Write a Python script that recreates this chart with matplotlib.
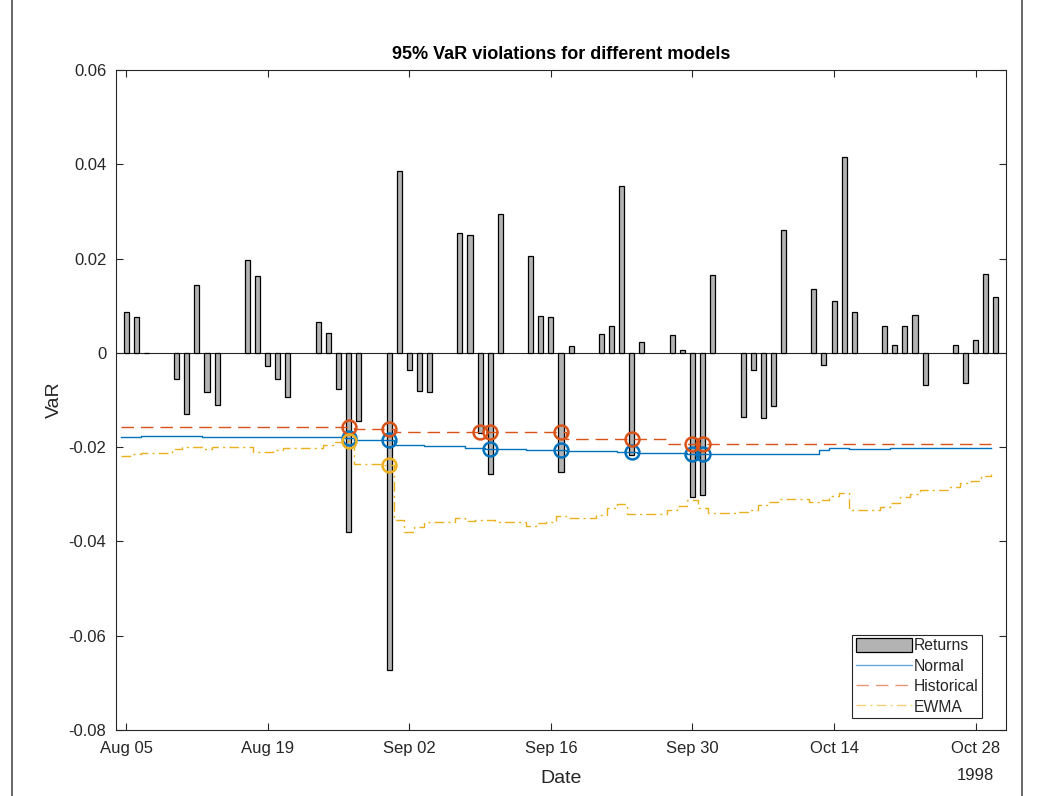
import numpy as np
import pandas as pd
import matplotlib
matplotlib.use("Agg")
import matplotlib.pyplot as plt
import matplotlib.dates as mdates
from matplotlib.lines import Line2D
from matplotlib.patches import Patch

plt.rcParams['font.family'] = ['Liberation Sans', 'DejaVu Sans']

# trading days shown in the zoomed window
fechas = pd.bdate_range('1998-08-05', '1998-10-30')

retornos = [0.0087, 0.0076, 0.0000,
            -0.0056, -0.0129, 0.0143, -0.0083, -0.0110,
            0.0198, 0.0163, -0.0027, -0.0056, -0.0094,
            0.0065, 0.0043, -0.0077, -0.0379, -0.0145,
            -0.0672, 0.0386, -0.0037, -0.0081, -0.0083,
            0.0254, 0.0249, -0.0170, -0.0257, 0.0295,
            0.0206, 0.0079, 0.0076, -0.0252, 0.0014,
            0.0039, 0.0057, 0.0354, -0.0216, 0.0022,
            0.0038, 0.0006, -0.0305, -0.0301, 0.0165,
            -0.0137, -0.0037, -0.0139, -0.0112, 0.0260,
            0.0135, -0.0025, 0.0109, 0.0416, 0.0087,
            0.0057, 0.0017, 0.0057, 0.0081, -0.0069,
            0.0017, -0.0063, 0.0028, 0.0168, 0.0119]

var_normal = [-0.0179, -0.0179, -0.01755,
              -0.01755, -0.01755, -0.01755, -0.0179, -0.0179,
              -0.0179, -0.0179, -0.0179, -0.0179, -0.0179,
              -0.0179, -0.0179, -0.0179, -0.0181, -0.0184,
              -0.0184, -0.0195, -0.0196, -0.0196, -0.0197,
              -0.0198, -0.0201, -0.0202, -0.0204, -0.0204,
              -0.0206, -0.0207, -0.0207, -0.0207, -0.0208,
              -0.0209, -0.0209, -0.0210, -0.0211, -0.0212,
              -0.0213, -0.0213, -0.0214, -0.0215, -0.0215,
              -0.0215, -0.0215, -0.0215, -0.0215, -0.0215,
              -0.0215, -0.0207, -0.0201, -0.0201, -0.0204,
              -0.0204, -0.0201, -0.0201, -0.0201, -0.0201,
              -0.0201, -0.0201, -0.0201, -0.0201, -0.0201]

var_historico = [-0.01565] * 17 + [-0.0161] * 2 + [-0.0168] * 13 + \
                [-0.0183] * 6 + [-0.0193] * 25

var_ewma = [-0.0219, -0.0214, -0.0212,
            -0.0203, -0.0199, -0.0200, -0.0204, -0.0200,
            -0.0199, -0.0211, -0.0210, -0.0206, -0.0202,
            -0.0201, -0.0195, -0.0190, -0.0186, -0.0236,
            -0.0238, -0.0355, -0.0379, -0.0369, -0.0358,
            -0.0351, -0.0356, -0.0354, -0.0355, -0.0358,
            -0.0367, -0.0360, -0.0358, -0.0346, -0.0350,
            -0.0343, -0.0330, -0.0321, -0.0342, -0.0342,
            -0.0333, -0.0325, -0.0312, -0.0330, -0.0339,
            -0.0338, -0.0333, -0.0323, -0.0316, -0.0311,
            -0.0316, -0.0312, -0.0304, -0.0298, -0.0333,
            -0.0326, -0.0318, -0.0306, -0.0299, -0.0291,
            -0.0284, -0.0275, -0.0271, -0.0261, -0.0258]

nombres = ['Normal', 'Historical', 'EWMA']
estilos = ['-', (0, (9, 5)), (0, (7, 3, 1.5, 3))]
colores = [(0, 0.447, 0.741), (0.85, 0.325, 0.098), (0.929, 0.694, 0.125)]
gris = (0.15, 0.15, 0.15)

x = mdates.date2num(fechas.to_pydatetime())
R = np.array(retornos)
series = [np.array(var_normal), np.array(var_historico), np.array(var_ewma)]

fig = plt.figure(figsize=(10.63, 7.96), dpi=100)
ax = fig.add_axes([116 / 1063, 1 - 730 / 796, 890 / 1063, 660 / 796])

ax.bar(x, R, width=0.5, color=(0.7, 0.7, 0.7), edgecolor='k', linewidth=0.9, zorder=2)
ax.axhline(0, color=gris, linewidth=0.8, zorder=1)

for v, st, c in zip(series, estilos, colores):
    ax.step(x - 0.5, v, where='post', linestyle=st, color=c, linewidth=1.0, zorder=3)

# violaciones: retorno por debajo del VaR
for v, c in zip(series, colores):
    ind = R < v
    ax.plot(x[ind], v[ind], 'o', markersize=10, markerfacecolor='none',
            markeredgecolor=c, markeredgewidth=1.8, zorder=4)

ax.set_xlim(x[0] - 1, x[-1] + 1)
ax.set_ylim(-0.08, 0.06)

ticks_x = mdates.date2num(pd.date_range('1998-08-05', '1998-10-28', freq='14D').to_pydatetime())
ax.set_xticks(ticks_x)
ax.xaxis.set_major_formatter(mdates.DateFormatter('%b %d'))
yt = np.arange(-0.08, 0.0601, 0.02)
ax.set_yticks(yt)
ax.set_yticklabels(['0' if abs(t) < 1e-9 else f'{t:.2f}' for t in yt])

ax.tick_params(direction='in', length=5, width=0.8, top=True, right=True,
               colors=gris, labelsize=12, labelcolor=gris)
ax.tick_params(axis='x', pad=8)
ax.tick_params(axis='y', pad=7)
for s in ax.spines.values():
    s.set_color(gris)
    s.set_linewidth(0.8)

ax.set_title('95% VaR violations for different models', fontsize=13,
             fontweight='bold', color='black', pad=8)
ax.set_ylabel('VaR', fontsize=14, color=gris, labelpad=4)
ax.set_xlabel('Date', fontsize=14, color=gris, labelpad=10)
fig.text(975 / 1063, 1 - 775 / 796, '1998', fontsize=12, color=gris,
         ha='center', va='center')

handles = [Patch(facecolor=(0.7, 0.7, 0.7), edgecolor='k', linewidth=0.9)]
handles += [Line2D([], [], linestyle=st, color=c, linewidth=1.0, alpha=0.6)
            for st, c in zip(estilos, colores)]
leg = ax.legend(handles, ['Returns'] + nombres, loc='lower right',
                bbox_to_anchor=(0.973, 0.018), borderaxespad=0,
                fontsize=11.3, fancybox=False, framealpha=1, edgecolor=gris,
                handlelength=3.6, handleheight=1.0, handletextpad=0.1,
                labelspacing=0.32, borderpad=0.22)
leg.get_frame().set_linewidth(0.8)
for t in leg.get_texts():
    t.set_color(gris)

# borde de la ventana de la figura
fig.add_artist(Line2D([12 / 1063, 12 / 1063], [0, 1], color=(0.3, 0.3, 0.3), linewidth=1.2))
fig.add_artist(Line2D([1022 / 1063, 1022 / 1063], [0, 1], color=(0.3, 0.3, 0.3), linewidth=1.2))

fig.savefig('out.png', dpi=100)
